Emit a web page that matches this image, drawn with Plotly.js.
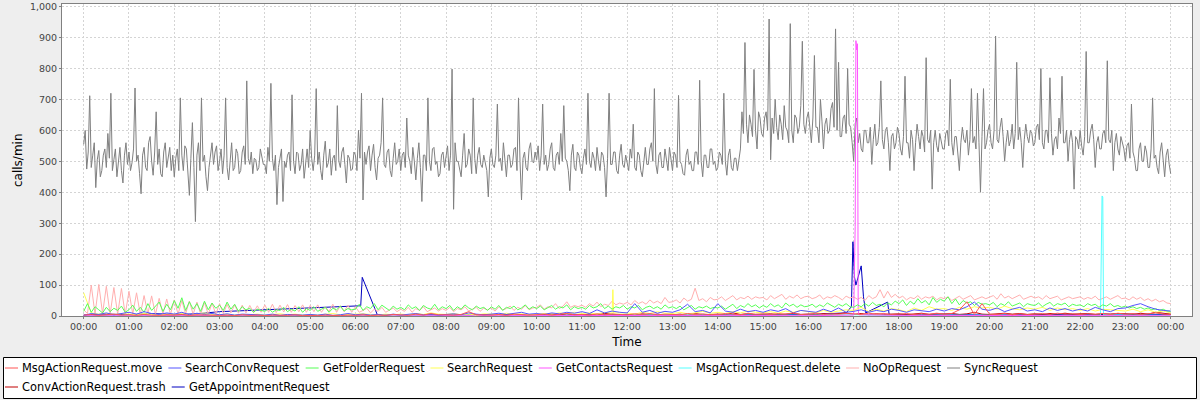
<!DOCTYPE html>
<html><head><meta charset="utf-8">
<script src="https://cdn.plot.ly/plotly-3.0.1.min.js"></script>
<style>html,body{margin:0;padding:0;background:#eeeeee;} #chart{width:1200px;height:400px;}</style>
</head><body><div id="chart"></div>
<script>
// ---------- data (calls/min) ----------
// SyncRequest, one value every 2 minutes from 00:00 to 24:00
const syncRequest = [
 555,600,475,530,712,480,520,560,415,505,535,450,470,520,540,480,590,510,720,470,505,540,450,500,545,470,430,520,560,490,
 530,470,495,540,737,500,520,460,395,520,545,480,470,560,580,500,455,530,660,490,540,460,450,530,560,480,510,545,470,520,
 450,510,540,470,705,520,470,550,540,460,390,510,625,480,305,520,560,470,705,500,520,450,405,480,520,560,490,530,550,470,
 500,540,460,520,705,480,440,510,560,470,480,540,525,460,470,530,550,490,760,510,490,530,460,510,505,470,480,540,520,490,
 490,460,545,500,752,510,470,520,360,480,510,540,370,500,480,520,530,470,715,500,460,530,525,470,490,540,445,500,540,480,
 600,510,470,520,735,490,530,470,440,520,565,480,495,540,455,510,520,470,680,500,480,530,545,490,430,520,510,470,475,530,
 520,470,600,510,720,375,530,490,530,550,470,520,555,480,440,510,520,560,705,490,480,530,540,470,450,510,560,490,500,540,
 470,520,530,480,640,520,500,460,545,500,440,510,560,480,370,520,520,470,705,500,470,540,545,490,500,450,460,520,530,480,
 510,550,470,520,798,345,560,500,500,470,450,520,590,480,490,540,520,460,705,510,460,520,545,490,480,520,500,470,385,510,
 540,490,480,520,685,500,510,470,560,510,450,520,520,480,490,540,545,470,705,500,375,510,530,480,470,540,560,500,495,530,
 505,550,470,520,685,490,520,470,490,540,560,480,470,520,530,490,590,500,680,510,500,470,405,520,555,480,470,530,520,480,
 460,510,540,490,720,500,480,530,510,470,545,500,470,530,520,480,385,510,720,490,490,530,530,470,460,520,555,490,480,520,
 500,470,540,510,620,480,470,530,520,470,450,510,545,490,490,540,560,500,735,490,460,520,530,480,480,540,510,470,545,500,
 470,530,520,480,713,500,490,460,455,520,540,490,500,470,470,530,530,490,762,500,450,520,520,480,480,540,540,490,500,470,
 480,530,520,490,720,500,455,520,540,480,470,510,510,470,500,540,660,590,884,620,560,650,620,580,797,600,540,660,640,590,
 580,640,660,600,960,505,640,590,700,610,570,650,620,570,680,610,600,560,945,600,560,650,640,590,610,680,888,620,590,640,
 660,600,560,640,842,610,610,560,700,630,540,620,640,590,600,670,690,610,928,600,820,580,580,640,650,590,800,620,610,560,
 500,622,640,560,590,540,530,600,600,560,560,610,490,570,620,550,560,610,760,570,540,600,610,560,470,580,590,540,560,610,
 590,540,520,580,775,560,560,510,600,570,470,560,620,580,540,600,580,530,835,570,560,600,410,560,600,550,530,590,570,540,
 540,590,600,550,765,560,520,580,580,530,470,560,610,570,560,600,520,570,735,560,580,540,720,560,400,580,735,540,560,600,
 620,560,540,600,905,570,560,610,640,580,500,560,600,550,570,620,540,590,820,570,610,560,480,570,620,580,560,600,590,550,
 560,610,620,570,800,560,540,600,600,560,770,590,520,570,580,540,640,590,775,560,560,600,500,570,600,560,410,580,570,540,
 600,550,520,580,855,560,560,600,620,570,480,560,580,540,540,590,600,560,825,570,560,600,470,560,590,540,520,580,560,540,
 500,550,560,510,685,530,510,470,470,540,560,500,500,550,530,480,480,540,705,510,520,480,460,530,560,500,450,520,540,490,
 460];
// NoOpRequest, every 5 minutes
const noOpRequest = [
 20,8,100,6,102,8,96,5,92,6,89,5,
 80,6,75,5,66,7,65,5,57,6,55,5,
 52,6,50,7,48,5,45,6,44,5,42,6,
 40,8,38,10,36,9,35,10,34,11,33,12,
 36,12,38,11,35,13,37,12,34,14,36,12,
 34,14,36,12,30,15,38,12,33,14,35,12,
 30,12,18,25,10,22,15,28,12,20,26,14,
 22,15,28,12,24,18,30,14,20,26,16,24,
 18,28,14,24,20,30,16,22,28,15,25,20,
 26,16,30,20,24,32,18,28,22,34,20,26,
 28,36,22,30,26,40,24,32,46,28,34,30,
 35,28,40,32,45,30,38,34,48,36,42,38,
 44,36,50,40,46,38,52,42,48,40,60,44,
 46,52,42,58,48,54,90,50,56,46,60,52,
 54,62,50,58,66,52,60,56,64,54,62,58,
 60,52,66,56,62,70,54,64,58,68,56,62,
 64,56,60,68,54,62,58,66,60,52,64,58,
 62,54,60,50,66,56,62,85,58,80,60,70,
 58,64,52,60,56,66,54,62,58,64,52,60,
 56,62,50,58,64,54,60,66,52,58,62,56,
 60,66,54,72,58,64,56,62,68,54,60,64,
 58,62,54,66,56,60,64,52,58,62,56,60,
 62,54,60,56,64,52,58,62,54,60,66,56,
 58,52,62,54,60,50,56,48,54,46,50,42,
 40];
// GetFolderRequest, every 5 minutes
const getFolderRequest = [
 15,40,12,30,20,10,28,14,25,18,32,12,
 20,35,15,28,12,40,18,30,45,15,38,20,
 50,25,59,18,46,22,40,15,48,20,42,25,
 35,18,45,22,38,15,30,20,25,12,22,18,
 15,25,12,20,18,28,14,22,16,30,12,24,
 18,30,15,22,28,12,25,20,32,16,24,20,
 22,38,18,30,24,40,20,35,26,18,32,22,
 28,20,36,24,30,18,34,26,22,38,20,30,
 24,34,18,30,22,36,26,20,32,24,28,18,
 30,22,34,18,28,24,32,20,26,36,22,30,
 24,32,20,28,34,22,30,26,36,20,30,24,
 28,22,34,26,30,40,24,32,22,30,26,34,
 22,30,26,34,20,28,32,24,30,22,36,26,
 30,24,32,20,28,34,22,30,26,32,24,28,
 26,32,22,30,38,24,34,28,40,30,36,26,
 34,28,40,30,36,26,42,32,38,28,36,30,
 32,38,28,36,30,42,34,28,38,32,40,30,
 28,36,30,40,32,44,34,38,30,42,36,48,
 40,52,34,48,38,56,42,50,36,60,44,54,
 48,62,40,55,36,50,42,46,34,44,38,40,
 36,44,30,40,34,46,32,38,42,30,40,36,
 34,42,30,38,44,32,40,36,42,30,38,34,
 36,30,40,34,38,28,36,32,40,30,34,28,
 32,26,30,24,28,22,26,20,24,18,22,16,
 15];
// SearchConvRequest, every 10 minutes
const searchConvRequest = [
 2,8,5,10,4,7, 12,6,14,8,5,10, 6,12,4,9,5,8, 4,7,3,6,5,4,
 3,6,2,5,4,3, 5,3,6,2,4,8, 4,6,3,5,2,6, 3,5,8,4,6,3,
 5,7,4,10,6,4, 6,9,5,8,12,6, 8,5,10,7,12,9, 14,8,20,10,16,12,
 10,40,12,18,9,15, 12,20,38,14,18,10, 40,16,12,22,14,18, 12,20,15,24,10,18,
 16,12,22,14,26,12, 15,20,12,18,14,22, 18,12,20,16,14,22, 16,24,20,30,45,22,
 18,26,14,22,28,16, 20,14,26,18,24,16, 22,16,28,20,14,24, 26,34,40,30,22,18,
 16];
// SearchRequest, every 10 minutes, plus a short burst at 11:40
const searchRequest = [
 75,10,6,8,5,7, 6,4,8,5,3,6, 5,8,4,6,10,5, 4,6,3,5,4,6,
 3,5,7,4,6,3, 5,3,6,8,4,5, 4,7,5,3,6,4, 6,4,8,5,10,6,
 5,8,4,6,3,7, 6,4,9,5,7,4, 5,8,6,10,7,12, 8,10,6,12,9,9,
 10,6,12,8,14,9, 8,12,7,10,15,9, 12,8,14,10,16,12, 10,14,9,16,12,18,
 14,10,18,12,16,20, 18,28,14,22,16,24, 20,14,26,18,30,22, 24,18,28,22,30,26,
 28,22,32,24,20,26, 22,28,18,26,20,24, 18,24,16,22,20,18, 16,22,14,20,12,16,
 10];
const searchBurstMinutes = [700, 701, 702];
const searchBurstValues  = [10, 85, 10];
// MsgActionRequest.move, every 10 minutes
const msgMoveRequest = [
 3,5,2,4,6,3, 4,2,5,3,2,4, 3,5,2,4,3,2, 2,3,1,4,2,3,
 1,3,2,2,4,1, 2,1,3,2,1,3, 2,4,1,3,2,5, 3,2,6,3,8,4,
 4,3,5,14,4,3, 3,5,2,6,4,3, 4,6,3,5,8,4, 5,3,7,4,6,5,
 4,7,5,8,4,6, 6,4,8,5,7,4, 5,8,6,4,9,6, 7,5,8,6,10,5,
 6,9,5,7,6,8, 7,5,9,6,8,5, 6,8,5,7,6,9, 6,8,20,46,5,40,
 6,5,8,4,7,5, 6,8,5,9,6,7, 5,7,6,8,5,9, 6,8,5,7,10,6,
 5];
// ConvActionRequest.trash, every 10 minutes
const convTrashRequest = [
 1,2,0,1,2,1, 0,1,2,1,0,2, 1,0,2,1,1,0, 1,2,0,1,0,1,
 0,1,1,0,2,1, 1,0,2,1,0,1, 2,1,0,3,1,2, 1,3,2,1,4,2,
 3,2,5,2,3,4, 2,4,3,5,2,3, 4,3,6,3,8,4, 3,6,4,8,5,4,
 5,3,7,4,6,3, 4,6,3,8,4,5, 6,4,10,5,7,4, 5,7,4,6,8,5,
 6,4,8,5,7,10, 5,8,4,7,5,6, 7,4,6,9,5,7, 6,8,5,7,12,6,
 5,7,9,6,8,5, 7,5,8,6,9,6, 6,8,5,7,6,8, 7,5,9,6,12,8,
 6];
// GetContactsRequest (minute of day, value)
const contactsMinutes = [0,120,240,360,480,600,720,840,960,1020,1022,1023,1024,1025,1026,1027,1080,1200,1320,1440];
const contactsValues  = [1,0,1,0,1,2,1,2,1,3,290,890,860,880,20,4,2,1,2,1];
// MsgActionRequest.delete (minute of day, value)
const deleteMinutes = [0,60,120,180,240,300,360,420,480,540,600,660,720,780,840,900,960,1020,1080,1140,1200,1260,1320,1347,1348,1349,1350,1351,1380,1440];
const deleteValues  = [1,2,0,1,2,1,0,2,3,1,2,3,2,4,3,2,3,4,2,3,2,3,2,3,380,388,385,4,3,2];
// GetAppointmentRequest (minute of day, value)
const apptMinutes = [0,30,60,90,120,150,180,367,369,389,420,480,540,600,660,720,780,840,900,960,1010,1017,1019,1021,1023,1030,1033,1036,1065,1067,1110,1140,1200,1260,1320,1380,1440];
const apptValues  = [3,6,4,8,5,7,14,33,125,4,2,3,2,4,3,5,3,4,3,5,10,30,240,127,100,162,62,10,45,5,4,6,3,5,4,6,5];

const seriesNames = ['MsgActionRequest.move','SearchConvRequest','GetFolderRequest','SearchRequest',
  'GetContactsRequest','MsgActionRequest.delete','NoOpRequest','SyncRequest',
  'ConvActionRequest.trash','GetAppointmentRequest'];
const seriesColors = ['#ff5555','#5555ff','#55ff55','#ffff55','#ff55ff','#55ffff','#ffafaf','#808080','#c00000','#0000c0'];
const yTitle = 'calls/min';
const xTitle = 'Time';

// ---------- build ----------
const BASE = Date.UTC(2013, 0, 1);
const MIN = 60000, HOUR = 3600000;
const regMinutes = (vals, step) => vals.map((v, i) => i * step);
const toX = mins => mins.map(m => BASE + m * MIN);

// merge the regular SearchRequest samples with its short burst
function mergeSeries(m1, v1, m2, v2) {
  const pts = m1.map((m, i) => [m, v1[i]]).concat(m2.map((m, i) => [m, v2[i]]));
  pts.sort((a, b) => a[0] - b[0]);
  return [pts.map(p => p[0]), pts.map(p => p[1])];
}
const searchMerged = mergeSeries(regMinutes(searchRequest, 10), searchRequest, searchBurstMinutes, searchBurstValues);

const seriesData = [
  [toX(regMinutes(msgMoveRequest, 10)), msgMoveRequest],
  [toX(regMinutes(searchConvRequest, 10)), searchConvRequest],
  [toX(regMinutes(getFolderRequest, 5)), getFolderRequest],
  [toX(searchMerged[0]), searchMerged[1]],
  [toX(contactsMinutes), contactsValues],
  [toX(deleteMinutes), deleteValues],
  [toX(regMinutes(noOpRequest, 5)), noOpRequest],
  [toX(regMinutes(syncRequest, 2)), syncRequest],
  [toX(regMinutes(convTrashRequest, 10)), convTrashRequest],
  [toX(apptMinutes), apptValues]
];
const traces = [];
for (let i = seriesData.length - 1; i >= 0; i--) {
  traces.push({type:'scatter', mode:'lines', name:seriesNames[i], x:seriesData[i][0], y:seriesData[i][1],
    line:{color:seriesColors[i], width:1}, hoverinfo:'skip', showlegend:false});
}

const M = {l:62, r:8, t:4, b:84};
const W = 1200, H = 400;
const PW = W - M.l - M.r, PH = H - M.t - M.b;
const px = x => (x - M.l) / PW;
const py = y => (H - M.b - y) / PH;

const FONT = 'DejaVu Sans';
const LEG_SIZE = 11.4;
const ctx = document.createElement('canvas').getContext('2d');
ctx.font = LEG_SIZE + 'px "' + FONT + '"';

const shapes = [{type:'rect', xref:'paper', yref:'paper', x0:px(3.5), x1:px(1196.5), y0:py(357.5), y1:py(398.5),
  line:{color:'#000000', width:1}, fillcolor:'#ffffff', layer:'below'}];
const annotations = [];
let cur = 5, row = 0;
const rowY = [368, 387];
seriesNames.forEach((name, i) => {
  const w = ctx.measureText(name).width;
  if (cur + 17 + w > 1194) { row++; cur = 5; }
  const yy = rowY[row];
  shapes.push({type:'line', xref:'paper', yref:'paper', x0:px(cur), x1:px(cur + 13), y0:py(yy), y1:py(yy),
    line:{color:seriesColors[i], width:1}});
  annotations.push({xref:'paper', yref:'paper', x:px(cur + 17), y:py(yy), xanchor:'left', yanchor:'middle',
    text:name, showarrow:false, borderpad:0, borderwidth:0, font:{family:FONT, size:LEG_SIZE, color:'#000000'}});
  cur = cur + 17 + w + 6;
});
// y-axis title, placed like the reference
annotations.push({xref:'paper', yref:'paper', x:px(18), y:0.5, xanchor:'center', yanchor:'middle', textangle:-90,
  text:yTitle, showarrow:false, font:{family:FONT, size:12, color:'#000000'}});

const layout = {
  width:W, height:H, margin:M,
  paper_bgcolor:'#eeeeee', plot_bgcolor:'#ffffff',
  showlegend:false,
  font:{family:FONT, color:'#444444'},
  xaxis:{type:'date', range:[BASE - 0.479 * HOUR, BASE + 24.47 * HOUR], tick0:BASE, dtick:HOUR,
    tickformat:'%H:%M', showgrid:true, gridcolor:'#d4d4d4', griddash:'2px,2px', gridwidth:1,
    showline:true, linecolor:'#808080', linewidth:1, mirror:true, ticks:'outside', ticklen:2, tickcolor:'#808080',
    zeroline:false, tickfont:{family:FONT, size:9.5, color:'#444444'},
    title:{text:xTitle, standoff:6, font:{family:FONT, size:12, color:'#000000'}}},
  yaxis:{range:[0, 1008.5], tick0:0, dtick:100, tickformat:',', showgrid:true, gridcolor:'#d4d4d4',
    griddash:'2px,2px', gridwidth:1, showline:true, linecolor:'#808080', linewidth:1, mirror:true,
    ticks:'outside', ticklen:2, tickcolor:'#808080', zeroline:false,
    tickfont:{family:FONT, size:9.5, color:'#444444'}},
  shapes:shapes, annotations:annotations
};
Plotly.newPlot('chart', traces, layout, {displayModeBar:false, staticPlot:true});
</script></body></html>
